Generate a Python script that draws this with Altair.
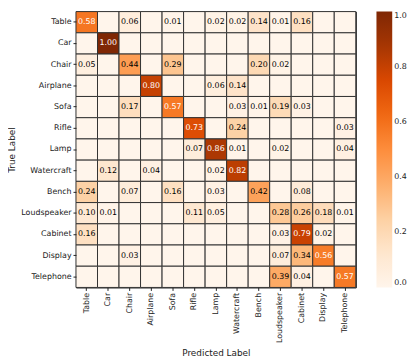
import altair as alt
import pandas as pd

labels = ["Table", "Car", "Chair", "Airplane", "Sofa", "Rifle", "Lamp",
          "Watercraft", "Bench", "Loudspeaker", "Cabinet", "Display", "Telephone"]

row_table       = [0.58, 0, 0.06, 0, 0.01, 0, 0.02, 0.02, 0.14, 0.01, 0.16, 0, 0]
row_car         = [0, 1.00, 0, 0, 0, 0, 0, 0, 0, 0, 0, 0, 0]
row_chair       = [0.05, 0, 0.44, 0, 0.29, 0, 0, 0, 0.20, 0.02, 0, 0, 0]
row_airplane    = [0, 0, 0, 0.80, 0, 0, 0.06, 0.14, 0, 0, 0, 0, 0]
row_sofa        = [0, 0, 0.17, 0, 0.57, 0, 0, 0.03, 0.01, 0.19, 0.03, 0, 0]
row_rifle       = [0, 0, 0, 0, 0, 0.73, 0, 0.24, 0, 0, 0, 0, 0.03]
row_lamp        = [0, 0, 0, 0, 0, 0.07, 0.86, 0.01, 0, 0.02, 0, 0, 0.04]
row_watercraft  = [0, 0.12, 0, 0.04, 0, 0, 0.02, 0.82, 0, 0, 0, 0, 0]
row_bench       = [0.24, 0, 0.07, 0, 0.16, 0, 0.03, 0, 0.42, 0, 0.08, 0, 0]
row_loudspeaker = [0.10, 0.01, 0, 0, 0, 0.11, 0.05, 0, 0, 0.28, 0.26, 0.18, 0.01]
row_cabinet     = [0.16, 0, 0, 0, 0, 0, 0, 0, 0, 0.03, 0.79, 0.02, 0]
row_display     = [0, 0, 0.03, 0, 0, 0, 0, 0, 0, 0.07, 0.34, 0.56, 0]
row_telephone   = [0, 0, 0, 0, 0, 0, 0, 0, 0, 0.39, 0.04, 0, 0.57]

rows = [row_table, row_car, row_chair, row_airplane, row_sofa, row_rifle, row_lamp,
        row_watercraft, row_bench, row_loudspeaker, row_cabinet, row_display, row_telephone]

# matplotlib "Oranges" colormap stops
oranges = ["#fff5eb", "#fee6ce", "#fdd0a2", "#fdae6b", "#fd8d3c",
           "#f16913", "#d94801", "#a63603", "#7f2704"]
stops = [i / 8 for i in range(9)]

records = []
for i, t in enumerate(labels):
    for j, p in enumerate(labels):
        v = rows[i][j]
        records.append({"true": t, "pred": p, "value": v,
                        "label": f"{v:.2f}" if v > 0 else ""})
df = pd.DataFrame(records)

FONT = "DejaVu Sans"

base = alt.Chart(df).encode(
    x=alt.X("pred:N", sort=labels, title="Predicted Label",
            axis=alt.Axis(labelAngle=-90, labelFontSize=8, titleFontSize=9,
                          labelFont=FONT, titleFont=FONT, titleFontWeight="normal",
                          ticks=True, tickSize=3, tickColor="#222", domain=False,
                          labelColor="#222", titleColor="#222", titlePadding=6,
                          labelPadding=2)),
    y=alt.Y("true:N", sort=labels, title="True Label",
            axis=alt.Axis(labelFontSize=8, titleFontSize=9, labelFont=FONT,
                          titleFont=FONT, titleFontWeight="normal", ticks=True,
                          tickSize=3, tickColor="#222", domain=False,
                          labelColor="#222", titleColor="#222", titlePadding=4,
                          labelPadding=2)),
)

rect = base.mark_rect(stroke="#333", strokeWidth=1).encode(
    color=alt.Color("value:Q",
                    scale=alt.Scale(domain=stops, range=oranges, interpolate="rgb"),
                    legend=alt.Legend(title=None, gradientLength=280,
                                      gradientThickness=16, labelFontSize=8,
                                      labelFont=FONT, values=[0, 0.2, 0.4, 0.6, 0.8, 1.0],
                                      format=".1f", offset=21, labelColor="#222",
                                      gradientStrokeWidth=0))
)

text = base.mark_text(fontSize=8, font=FONT).encode(
    text="label:N",
    color=alt.condition("datum.value > 0.5", alt.value("white"), alt.value("black")),
)

chart = (rect + text).properties(
    width=284, height=280,
    padding={"left": 0, "top": 0, "right": 0, "bottom": 0},
).configure_view(
    stroke="black", strokeWidth=1
).configure_axis(grid=False)

chart.save("out.html", embed_options={"renderer": "svg", "actions": False})
